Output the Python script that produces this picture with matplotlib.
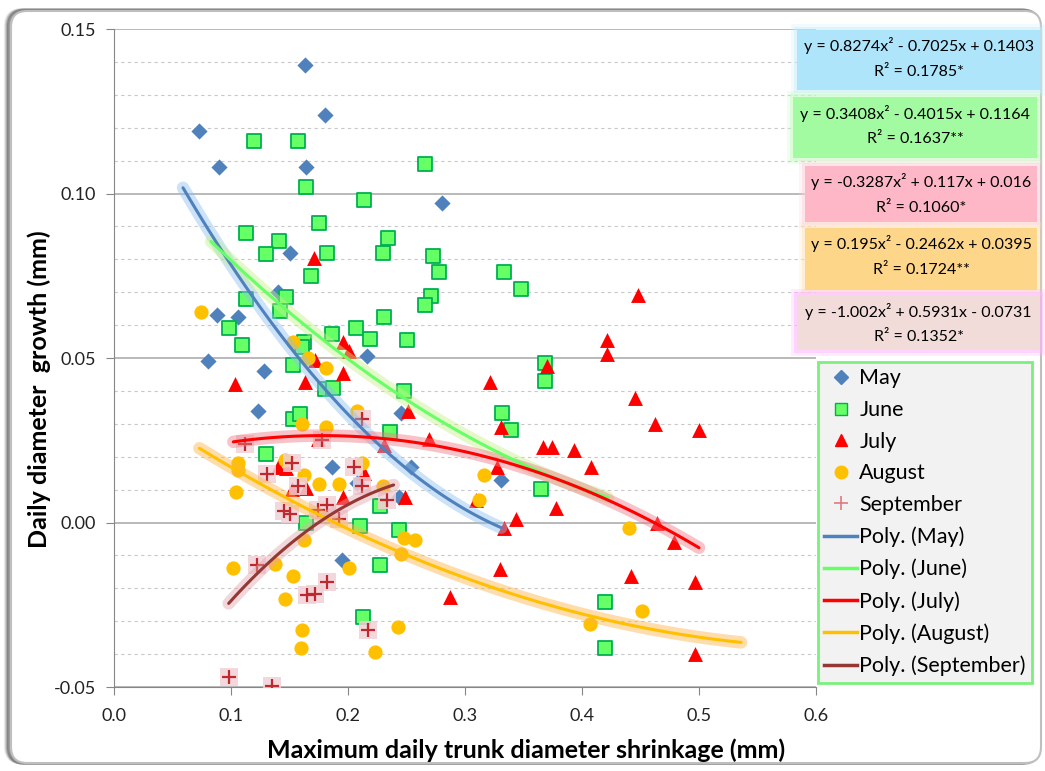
import matplotlib.pyplot as plt
from matplotlib.patches import FancyBboxPatch, Rectangle
from matplotlib.lines import Line2D
import numpy as np

plt.rcParams['font.family'] = ['Lato', 'DejaVu Sans']

# maximum daily trunk diameter shrinkage (mm) vs daily diameter growth (mm)
may_x = [0.163, 0.073, 0.090, 0.164, 0.180, 0.150, 0.280, 0.216, 0.140, 0.088, 0.106,
         0.080, 0.128, 0.123, 0.245, 0.186, 0.254, 0.208, 0.244, 0.195, 0.331]
may_y = [0.139, 0.119, 0.108, 0.108, 0.124, 0.082, 0.097, 0.0505, 0.070, 0.063, 0.0626,
         0.049, 0.046, 0.034, 0.0334, 0.017, 0.017, 0.012, 0.0076, -0.0113, 0.0128]

june_x = [0.120, 0.157, 0.164, 0.113, 0.141, 0.130, 0.266, 0.214, 0.175, 0.234, 0.230,
          0.182, 0.273, 0.278, 0.168, 0.271, 0.266, 0.231, 0.207, 0.186, 0.219, 0.250,
          0.162, 0.161, 0.113, 0.147, 0.142, 0.098, 0.109, 0.153, 0.180, 0.187, 0.248,
          0.153, 0.159, 0.236, 0.130, 0.164, 0.210, 0.227, 0.244, 0.227, 0.213, 0.333,
          0.348, 0.368, 0.368, 0.332, 0.339, 0.365, 0.420, 0.420]
june_y = [0.116, 0.116, 0.102, 0.088, 0.0855, 0.0815, 0.109, 0.098, 0.091, 0.0866, 0.082,
          0.082, 0.081, 0.076, 0.075, 0.0687, 0.066, 0.0626, 0.059, 0.0574, 0.0557, 0.0556,
          0.055, 0.0532, 0.068, 0.0684, 0.0644, 0.059, 0.0538, 0.048, 0.0407, 0.041, 0.040,
          0.0316, 0.033, 0.0274, 0.0207, 0.000, -0.0012, 0.0049, -0.0024, -0.0128, -0.0286, 0.076,
          0.071, 0.0486, 0.0429, 0.0334, 0.028, 0.0103, -0.0243, -0.038]

july_x = [0.171, 0.196, 0.201, 0.172, 0.196, 0.163, 0.103, 0.251, 0.174, 0.231, 0.269,
          0.140, 0.147, 0.214, 0.152, 0.164, 0.196, 0.249, 0.287, 0.330, 0.448, 0.421,
          0.421, 0.370, 0.321, 0.445, 0.331, 0.462, 0.500, 0.367, 0.374, 0.393, 0.408,
          0.327, 0.309, 0.378, 0.344, 0.333, 0.464, 0.479, 0.442, 0.497, 0.497]
july_y = [0.0805, 0.0548, 0.052, 0.0495, 0.0453, 0.0426, 0.042, 0.034, 0.0253, 0.0237, 0.0255,
          0.017, 0.0167, 0.0149, 0.0103, 0.0106, 0.0076, 0.0076, -0.0225, -0.014, 0.069, 0.0556,
          0.0513, 0.0477, 0.0426, 0.0377, 0.029, 0.030, 0.028, 0.0228, 0.0228, 0.022, 0.0168,
          0.0168, 0.0067, 0.0043, 0.001, -0.0018, -0.0003, -0.0058, -0.0164, -0.018, -0.040]

aug_x = [0.074, 0.153, 0.166, 0.181, 0.208, 0.161, 0.181, 0.212, 0.106, 0.106, 0.104,
         0.146, 0.162, 0.175, 0.192, 0.230, 0.162, 0.248, 0.257, 0.245, 0.102, 0.138,
         0.153, 0.201, 0.146, 0.161, 0.160, 0.243, 0.223, 0.316, 0.312, 0.440, 0.451, 0.407]
aug_y = [0.064, 0.055, 0.050, 0.047, 0.034, 0.030, 0.029, 0.018, 0.018, 0.016, 0.0094,
         0.019, 0.0143, 0.0118, 0.0118, 0.0112, -0.0052, -0.0046, -0.0052, -0.0097, -0.0137, -0.0125,
         -0.0164, -0.0137, -0.0234, -0.0328, -0.038, -0.0319, -0.0395, 0.0143, 0.0067, -0.0018, -0.0268, -0.0307]

sep_x = [0.212, 0.112, 0.178, 0.152, 0.131, 0.157, 0.145, 0.150, 0.205, 0.212, 0.233,
         0.182, 0.174, 0.192, 0.122, 0.165, 0.172, 0.182, 0.217, 0.098, 0.135]
sep_y = [0.0316, 0.024, 0.025, 0.018, 0.0146, 0.011, 0.0036, 0.0025, 0.017, 0.011, 0.0067,
         0.0052, 0.0037, 0.0012, -0.013, -0.022, -0.0216, -0.018, -0.0326, -0.047, -0.0498]

# second order polynomial trend lines y = a*x^2 + b*x + c
months = ['May', 'June', 'July', 'August', 'September']
coef_a = [0.8274, 0.3408, -0.3287, 0.195, -1.002]
coef_b = [-0.7025, -0.4015, 0.117, -0.2462, 0.5931]
coef_c = [0.1403, 0.1164, 0.016, 0.0395, -0.0731]
r_squared = [0.1785, 0.1637, 0.1060, 0.1724, 0.1352]
signif = ['*', '**', '*', '**', '*']
fit_start = [0.059, 0.083, 0.102, 0.073, 0.098]
fit_end = [0.331, 0.422, 0.500, 0.536, 0.239]

line_colors = ['#4f81bd', '#66ff66', '#ff0000', '#ffc000', '#953735']
glow_colors = ['#8ec0f0', '#c6f08a', '#f07a86', '#ffb347', '#e3a8ae']
box_colors = ['#afe5fb', '#a2fba0', '#fdb7c6', '#fed68a', '#f1dcda']
box_glow = ['#c8eefc', '#c4fcc0', '#fdd0dc', '#fee4bc', '#ffb6ff']

fig = plt.figure(figsize=(10.45, 7.71), dpi=100)
W, H = 1045, 771

# rounded chart frame with a soft shadow on the top/left
for k, a in enumerate([0.10, 0.16, 0.24, 0.35]):
    off = 4 - k
    fig.patches.append(FancyBboxPatch((10 - off, 8 + off * 0.2), 1030, 752,
                                      boxstyle='round,pad=0,rounding_size=16',
                                      transform=None, facecolor='none',
                                      edgecolor='#404040', linewidth=3, alpha=a, zorder=-3))
fig.patches.append(FancyBboxPatch((11, 8), 1030, 752, boxstyle='round,pad=0,rounding_size=16',
                                  transform=None, facecolor='white', edgecolor='#bfbfbf',
                                  linewidth=1.5, zorder=-2))

ax = fig.add_axes([114 / W, 1 - 687 / H, 702 / W, 658 / H])
ax.set_facecolor('none')
ax.set_xlim(0, 0.6)
ax.set_ylim(-0.05, 0.15)

ax.set_yticks(np.arange(-0.05, 0.151, 0.05))
ax.set_yticks(np.arange(-0.05, 0.151, 0.01), minor=True)
ax.set_xticks(np.arange(0, 0.61, 0.1))
ax.yaxis.set_major_formatter(plt.FormatStrFormatter('%.2f'))
ax.xaxis.set_major_formatter(plt.FormatStrFormatter('%.1f'))
ax.grid(axis='y', which='major', color='#a6a6a6', linewidth=1.1)
ax.grid(axis='y', which='minor', color='#c8c8c8', linewidth=0.8, linestyle=(0, (3, 3)))
ax.set_axisbelow(True)
ax.tick_params(axis='y', which='minor', length=0)
ax.tick_params(axis='both', which='major', direction='out', length=6, color='#868686',
               labelsize=13, labelcolor='#222222')
ax.tick_params(axis='y', pad=7)
ax.tick_params(axis='x', pad=9)
for s in ['top', 'right']:
    ax.spines[s].set_visible(False)
for s in ['left', 'bottom']:
    ax.spines[s].set_color('#868686')

# scatter series
ax.scatter(may_x, may_y, marker='D', s=68, color='#4f81bd', linewidths=0, zorder=3)
ax.scatter(june_x, june_y, marker='s', s=95, facecolor='#66ff66', edgecolor='#00b050',
           linewidths=1.3, zorder=3)
ax.scatter(july_x, july_y, marker='^', s=115, color='#ff0000', linewidths=0, zorder=3)
ax.scatter(aug_x, aug_y, marker='o', s=105, color='#ffc000', linewidths=0, zorder=3)
ax.scatter(sep_x, sep_y, marker='s', s=160, color='#f0d0d6', alpha=0.85, linewidths=0, zorder=3)
ax.scatter(sep_x, sep_y, marker='+', s=105, color='#c0282d', linewidths=1.6, zorder=3)

# trend lines with glow
for i in range(5):
    xs = np.linspace(fit_start[i], fit_end[i], 100)
    ys = coef_a[i] * xs ** 2 + coef_b[i] * xs + coef_c[i]
    ax.plot(xs, ys, color=glow_colors[i], linewidth=9, alpha=0.45, solid_capstyle='round', zorder=4)
    ax.plot(xs, ys, color=line_colors[i], linewidth=2.2, solid_capstyle='round', zorder=5)

# axis titles
fig.text(526 / W, 1 - 750 / H, 'Maximum daily trunk diameter shrinkage (mm)',
         ha='center', va='center', fontsize=18, fontweight='bold')
fig.text(39 / W, 1 - 389 / H, 'Daily diameter  growth (mm)', rotation=90,
         ha='center', va='center', fontsize=18, fontweight='bold')


def fmt(v, first=False):
    if first:
        return f'{v:g}'
    return (' - ' if v < 0 else ' + ') + f'{abs(v):g}'


# equation boxes
boxes = [(797, 30, 1040, 90), (793, 97, 1037, 158), (805, 166, 1037, 222),
         (805, 228, 1037, 290), (797, 295, 1040, 350)]
for i, (x0, y0, x1, y1) in enumerate(boxes):
    for g, a in [(6, 0.25), (3, 0.45)]:
        fig.patches.append(Rectangle((x0 - g, H - y1 - g), x1 - x0 + 2 * g, y1 - y0 + 2 * g,
                                     transform=None, facecolor=box_glow[i], alpha=a,
                                     edgecolor='none', zorder=6))
    fig.patches.append(Rectangle((x0, H - y1), x1 - x0, y1 - y0, transform=None,
                                 facecolor=box_colors[i], edgecolor='none', zorder=7))
    eq = 'y = ' + fmt(coef_a[i], True) + 'x²' + fmt(coef_b[i]) + 'x' + fmt(coef_c[i])
    r2 = f'R² = {r_squared[i]:.4f}{signif[i]}'
    cx = (x0 + x1) / 2 / W
    fig.text(cx, 1 - (y0 + 16) / H, eq, ha='center', va='center', fontsize=11.5, zorder=8)
    fig.text(cx, 1 - (y0 + 42) / H, r2, ha='center', va='center', fontsize=11.5, zorder=8)

# legend
handles = [
    Line2D([], [], marker='D', linestyle='none', color='#4f81bd', markersize=7),
    Line2D([], [], marker='s', linestyle='none', markerfacecolor='#66ff66',
           markeredgecolor='#00b050', markersize=9),
    Line2D([], [], marker='^', linestyle='none', color='#ff0000', markersize=9),
    Line2D([], [], marker='o', linestyle='none', color='#ffc000', markersize=9),
    Line2D([], [], marker='+', linestyle='none', color='#e07a80', markersize=10, markeredgewidth=1.2),
]
handles += [Line2D([], [], color=c, linewidth=2.5) for c in line_colors]
labels = months + [f'Poly. ({m})' for m in months]
leg = fig.legend(handles, labels, loc='upper left', bbox_to_anchor=(818 / W, 1 - 362 / H),
                 fontsize=15.5, frameon=True, fancybox=False, labelspacing=0.54,
                 handlelength=1.5, handletextpad=0.12, borderpad=0.3, borderaxespad=0)
leg.get_frame().set_facecolor('#f2f2f2')
leg.get_frame().set_edgecolor('#7cf07c')
leg.get_frame().set_linewidth(2)
leg.get_frame().set_alpha(1)
leg.set_zorder(9)

fig.savefig('out.png', dpi=100)
